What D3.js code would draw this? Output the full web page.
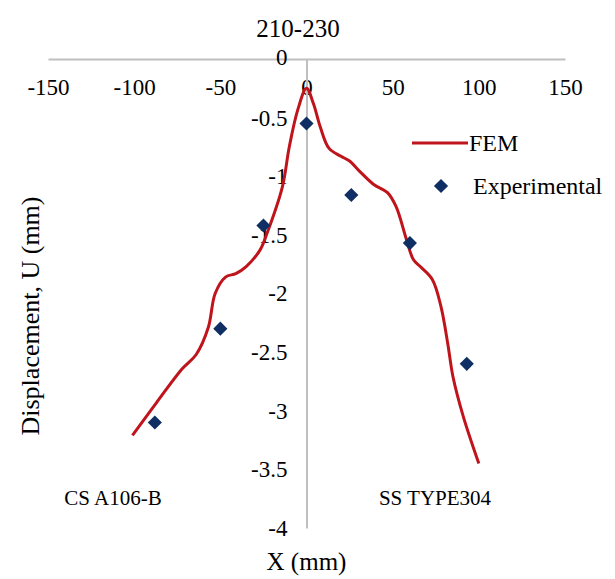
<!DOCTYPE html>
<html>
<head>
<meta charset="utf-8">
<script src="https://cdn.jsdelivr.net/npm/d3@7"></script>
<style>
  html, body { margin: 0; padding: 0; background: #fff; }
  svg text { font-family: "Liberation Serif", "Times New Roman", serif; fill: #000; }
</style>
</head>
<body>
<svg id="svg" width="615" height="579"></svg>
<script>
// FEM curve
const femX = [-101, -87, -72, -64, -57, -53, -47, -41, -35, -27, -23, -14, -10, -5, 0, 4, 8, 13, 20, 25, 31, 39, 47, 52, 58, 62, 66, 73, 78, 82, 85, 91, 100];
const femY = [-3.21, -2.93, -2.64, -2.52, -2.29, -2.0, -1.86, -1.83, -1.77, -1.63, -1.49, -1.09, -0.75, -0.43, -0.25, -0.38, -0.58, -0.76, -0.83, -0.87, -0.96, -1.07, -1.14, -1.26, -1.54, -1.71, -1.77, -1.88, -2.11, -2.43, -2.71, -3.05, -3.45];

// experimental points
const expX = [-88, -50, -25, 0, 26, 60, 93];
const expY = [-3.10, -2.30, -1.42, -0.55, -1.16, -1.57, -2.60];

const xTicks = [-150, -100, -50, 0, 50, 100, 150];
const yTicks = [0, -0.5, -1, -1.5, -2, -2.5, -3, -3.5, -4];

const svg = d3.select("#svg");
const g = svg.append("g");

const x = d3.scaleLinear().domain([-150, 150]).range([48, 565]);
const y = d3.scaleLinear().domain([0, -4]).range([59, 528]);

const serif = '"Liberation Serif", "Times New Roman", serif';
const tickSize = 23;
const axisGray = "#bfbfbf";
const fmt = d => String(d).replace("−", "-");

// x轴（在 y=0 处，标签在下）
const xAxis = g.append("g")
  .attr("transform", `translate(0,${y(0)})`)
  .call(d3.axisBottom(x).tickValues(xTicks).tickSize(0).tickPadding(20).tickFormat(fmt))
  .attr("font-family", serif).attr("font-size", tickSize);
xAxis.select(".domain").attr("stroke", axisGray).attr("stroke-width", 2);
xAxis.selectAll("text").style("font-size", tickSize + "px").style("font-family", serif);

// y轴（在 x=0 处）
const yAxis = g.append("g")
  .attr("transform", `translate(${x(0)},0)`)
  .call(d3.axisLeft(y).tickValues(yTicks).tickSize(0).tickPadding(19).tickFormat(fmt))
  .attr("font-family", serif).attr("font-size", tickSize);
yAxis.select(".domain").attr("stroke", axisGray).attr("stroke-width", 2);
yAxis.selectAll("text").style("font-size", tickSize + "px").style("font-family", serif);
// 0 标签略微上移，避开轴线
yAxis.selectAll(".tick").filter(d => d === 0).select("text").attr("dy", "0.25em");

// FEM 曲线
const femData = femX.map((v, i) => [x(v), y(femY[i])]);
g.append("path")
  .attr("d", d3.line().curve(d3.curveCatmullRom.alpha(0.5))(femData))
  .attr("fill", "none")
  .attr("stroke", "#c0141c")
  .attr("stroke-width", 3);

// 实验点（菱形）
const diamond = d3.symbol().type(d3.symbolSquare).size(100);
g.selectAll(".exp")
  .data(expX.map((v, i) => [v, expY[i]]))
  .join("path")
  .attr("class", "exp")
  .attr("d", diamond)
  .attr("transform", d => `translate(${x(d[0])},${y(d[1])}) rotate(45)`)
  .attr("fill", "#0f2e63");

// 标题
g.append("text")
  .attr("x", 298).attr("y", 28).attr("dy", "0.35em")
  .attr("text-anchor", "middle")
  .style("font-size", "25px")
  .text("210-230");

// 轴标题
g.append("text")
  .attr("x", x(0)).attr("y", 561).attr("dy", "0.35em")
  .attr("text-anchor", "middle")
  .style("font-size", "25px")
  .text("X (mm)");

g.append("text")
  .attr("transform", "translate(30,316) rotate(-90)")
  .attr("dy", "0.35em")
  .attr("text-anchor", "middle")
  .style("font-size", "26px")
  .text("Displacement, U (mm)");

// 材料标注
g.append("text")
  .attr("x", 113).attr("y", 498).attr("dy", "0.35em")
  .attr("text-anchor", "middle")
  .style("font-size", "21px")
  .text("CS A106-B");
g.append("text")
  .attr("x", 435).attr("y", 498).attr("dy", "0.35em")
  .attr("text-anchor", "middle")
  .style("font-size", "21px")
  .text("SS TYPE304");

// 图例
const legend = g.append("g");
legend.append("line")
  .attr("x1", 412).attr("x2", 468).attr("y1", 143).attr("y2", 143)
  .attr("stroke", "#c0141c").attr("stroke-width", 3);
legend.append("text")
  .attr("x", 469).attr("y", 143).attr("dy", "0.35em")
  .style("font-size", "24px")
  .text("FEM");
legend.append("path")
  .attr("d", diamond)
  .attr("transform", "translate(441,186) rotate(45)")
  .attr("fill", "#0f2e63");
legend.append("text")
  .attr("x", 473).attr("y", 186).attr("dy", "0.35em")
  .style("font-size", "24px")
  .text("Experimental");
</script>
</body>
</html>
